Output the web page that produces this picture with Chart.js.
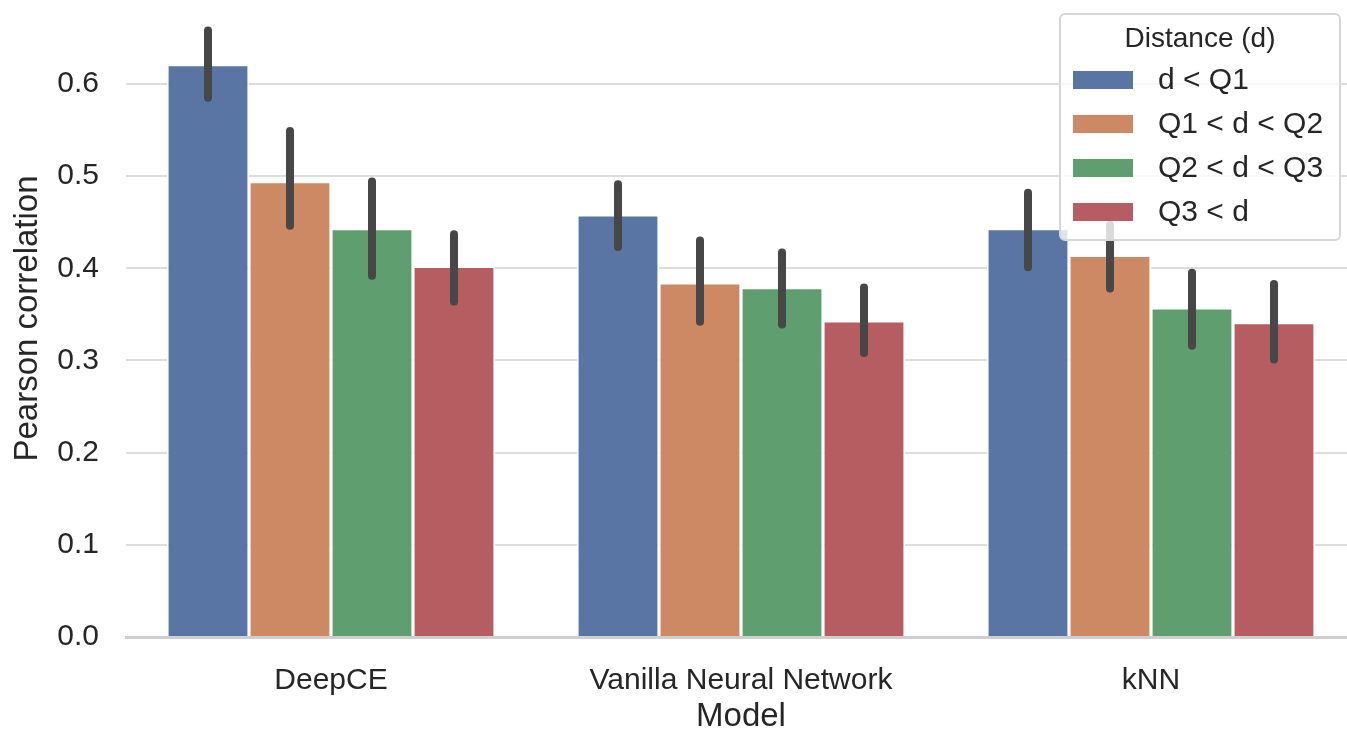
<!DOCTYPE html>
<html>
<head>
<meta charset="utf-8">
<script src="https://cdn.jsdelivr.net/npm/chart.js@4"></script>
<style>
  html, body { margin: 0; padding: 0; background: #fff; overflow: hidden; }
</style>
</head>
<body>
<canvas id="bar-chart" width="1360" height="732"></canvas>
<script>
const models = ["DeepCE", "Vanilla Neural Network", "kNN"];
const groups = ["d < Q1", "Q1 < d < Q2", "Q2 < d < Q3", "Q3 < d"];
const colors = ["#5975a4", "#cc8963", "#5f9e6e", "#b55d60"];

// mean Pearson correlation per distance bin, one value per model
const q1Mean = [0.621, 0.458, 0.443];
const q2Mean = [0.494, 0.384, 0.414];
const q3Mean = [0.443, 0.379, 0.357];
const q4Mean = [0.402, 0.343, 0.341];

// confidence interval ends
const q1Low = [0.585, 0.423, 0.401];
const q1High = [0.658, 0.491, 0.482];
const q2Low = [0.446, 0.342, 0.378];
const q2High = [0.549, 0.430, 0.447];
const q3Low = [0.392, 0.339, 0.316];
const q3High = [0.494, 0.417, 0.395];
const q4Low = [0.364, 0.308, 0.301];
const q4High = [0.437, 0.379, 0.383];

const yTicks = [0, 0.1, 0.2, 0.3, 0.4, 0.5, 0.6];

const means = [q1Mean, q2Mean, q3Mean, q4Mean];
const lows = [q1Low, q2Low, q3Low, q4Low];
const highs = [q1High, q2High, q3High, q4High];

const textColor = "#262626";
const fontFamily = "'Liberation Sans', Arial, sans-serif";

// draws the CI line over each bar
const errorBars = {
  id: "errorBars",
  afterDatasetsDraw(chart) {
    const ctx = chart.ctx;
    const y = chart.scales.y;
    ctx.save();
    ctx.strokeStyle = "#474747";
    ctx.lineWidth = 8;
    ctx.lineCap = "round";
    chart.data.datasets.forEach((ds, i) => {
      const meta = chart.getDatasetMeta(i);
      meta.data.forEach((bar, j) => {
        ctx.beginPath();
        ctx.moveTo(bar.x, y.getPixelForValue(ds.errLow[j]));
        ctx.lineTo(bar.x, y.getPixelForValue(ds.errHigh[j]));
        ctx.stroke();
      });
    });
    ctx.restore();
  },
};

// seaborn style legend box in the upper right corner
const legendBox = {
  id: "legendBox",
  afterDraw(chart) {
    const ctx = chart.ctx;
    const left = 1060, top = 14, w = 280, h = 226;
    ctx.save();
    ctx.beginPath();
    ctx.roundRect(left, top, w, h, 5);
    ctx.fillStyle = "rgba(255,255,255,0.8)";
    ctx.fill();
    ctx.strokeStyle = "#d6d6d6";
    ctx.lineWidth = 2;
    ctx.stroke();

    ctx.fillStyle = textColor;
    ctx.textBaseline = "middle";
    ctx.textAlign = "center";
    ctx.font = "28px " + fontFamily;
    ctx.fillText("Distance (d)", left + w / 2, top + 25);

    ctx.textAlign = "left";
    ctx.font = "30px " + fontFamily;
    chart.data.datasets.forEach((ds, i) => {
      const cy = top + 66 + i * 44;
      ctx.fillStyle = ds.backgroundColor;
      ctx.fillRect(left + 13, cy - 9, 60, 18);
      ctx.fillStyle = textColor;
      ctx.fillText(ds.label, left + 98, cy + 1);
    });
    ctx.restore();
  },
};

const ctx = document.getElementById("bar-chart").getContext("2d");
new Chart(ctx, {
  type: "bar",
  data: {
    labels: models,
    datasets: groups.map((g, i) => ({
      label: g,
      data: means[i],
      errLow: lows[i],
      errHigh: highs[i],
      backgroundColor: colors[i],
      borderColor: "#ffffff",
      borderWidth: 1.6,
      categoryPercentage: 0.8,
      barPercentage: 1.0,
    })),
  },
  options: {
    responsive: false,
    animation: false,
    layout: { padding: { top: 0, right: 4, bottom: 0, left: 0 } },
    plugins: {
      legend: { display: false },
      tooltip: { enabled: false },
    },
    scales: {
      x: {
        grid: { display: false },
        border: { display: true, color: "#cfcfcf", width: 3 },
        ticks: {
          color: textColor,
          padding: 18,
          font: { family: fontFamily, size: 30 },
        },
        title: {
          display: true,
          text: "Model",
          color: textColor,
          font: { family: fontFamily, size: 33, lineHeight: 0.92 },
          padding: { top: 0, bottom: 0 },
        },
        afterFit(scale) {
          scale.height = 95;
          scale.paddingLeft = 0;
          scale.paddingRight = 0;
        },
      },
      y: {
        min: 0,
        max: 0.691,
        grid: { color: "#dddddd", lineWidth: 2, drawTicks: false },
        border: { display: false },
        afterBuildTicks(scale) {
          scale.ticks = yTicks.map((v) => ({ value: v }));
        },
        ticks: {
          color: textColor,
          padding: 27,
          font: { family: fontFamily, size: 30 },
          callback: (v) => Number(v).toFixed(1),
        },
        title: {
          display: true,
          text: "Pearson correlation",
          color: textColor,
          font: { family: fontFamily, size: 33 },
          padding: { top: 8, bottom: 0 },
        },
        afterFit(scale) {
          scale.width = 126;
          scale.paddingTop = 0;
          scale.paddingBottom = 0;
        },
      },
    },
  },
  plugins: [errorBars, legendBox],
});
</script>
</body>
</html>
